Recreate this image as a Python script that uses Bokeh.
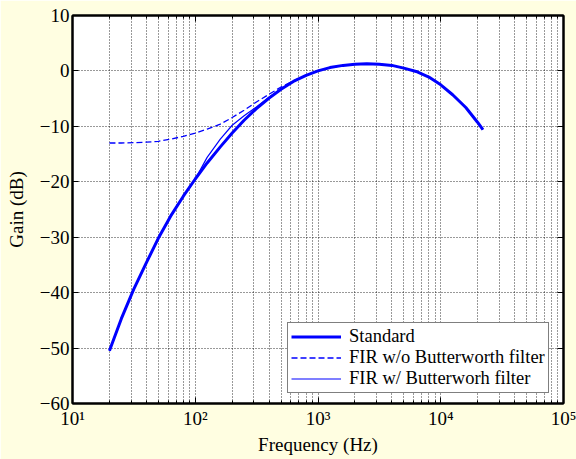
from bokeh.plotting import figure
from bokeh.models import (Range1d, FixedTicker, LogAxis, LinearAxis, Legend, LegendItem)
from bokeh.embed import file_html
from bokeh.resources import INLINE

# ---- data ----
freq = [20, 25, 31.5, 40, 50, 63, 80, 100, 125, 160, 200, 250, 315, 400, 500, 630,
        800, 1000, 1250, 1600, 2000, 2500, 3150, 4000, 5000, 6300, 8000, 10000,
        12500, 16000, 20000, 22050]
gain_standard = [-50.5, -44.7, -39.4, -34.6, -30.2, -26.2, -22.6, -19.5, -16.6, -13.7,
                 -11.2, -8.9, -6.8, -4.9, -3.3, -1.9, -0.8, 0.0, 0.6, 1.0, 1.2, 1.3,
                 1.2, 1.0, 0.5, -0.1, -1.1, -2.5, -4.3, -6.6, -9.3, -10.6]
gain_fir_no_bw = [-13.0, -13.0, -12.95, -12.85, -12.7, -12.3, -11.8, -11.2, -10.5, -9.6,
                  -8.4, -7.1, -5.6, -4.2, -2.9, -1.8, -0.8, 0.0, 0.6, 1.0, 1.2, 1.3,
                  1.2, 1.0, 0.5, -0.1, -1.1, -2.5, -4.3, -6.6, -9.3, -10.6]
gain_fir_bw = [-50.5, -44.7, -39.4, -34.6, -30.2, -26.2, -22.6, -19.5, -15.6, -12.3,
               -9.8, -8.1, -6.5, -4.7, -3.2, -1.9, -0.8, 0.0, 0.6, 1.0, 1.2, 1.3,
               1.2, 1.0, 0.5, -0.1, -1.1, -2.5, -4.3, -6.6, -9.3, -10.6]

labels = ["Standard", "FIR w/o Butterworth filter", "FIR w/ Butterworh filter"]
x_major = [10, 100, 1000, 10000, 100000]
x_major_labels = {10: "10\u00b9", 100: "10\u00b2", 1000: "10\u00b3",
                  10000: "10\u2074", 100000: "10\u2075"}
y_major = [-60, -50, -40, -30, -20, -10, 0, 10]
y_major_labels = {v: (("\u2212" + str(-v)) if v < 0 else str(v)) for v in y_major}
x_minor = [m * d for d in [10, 100, 1000, 10000] for m in range(2, 10)]

FONT = "'Liberation Serif', 'Times New Roman', serif"
BG = "#fffee1"

p = figure(width=576, height=459, x_axis_type="log",
           x_range=Range1d(10, 100000), y_range=Range1d(-60, 10),
           output_backend="svg", toolbar_location=None,
           min_border_left=72, min_border_right=13, min_border_top=15,
           min_border_bottom=56)
p.background_fill_color = "white"
p.border_fill_color = BG
p.outline_line_color = "black"
p.outline_line_width = 2

xt = FixedTicker(ticks=x_major, minor_ticks=x_minor)
yt = FixedTicker(ticks=y_major, minor_ticks=[])

def style_axis(ax, show_labels):
    ax.axis_line_color = "black"
    ax.axis_line_width = 2
    ax.major_tick_in = 6
    ax.major_tick_out = 0
    ax.minor_tick_in = 3
    ax.minor_tick_out = 0
    ax.major_tick_line_color = "black"
    ax.minor_tick_line_color = "black"
    ax.major_label_text_font = FONT
    ax.major_label_text_font_size = "19px" if show_labels else "1px"
    ax.major_label_text_color = "black" if show_labels else None
    ax.axis_label_text_font = FONT
    ax.axis_label_text_font_size = "19px"
    ax.axis_label_text_font_style = "normal"
    ax.axis_label_text_color = "black"

xa = p.xaxis[0]
xa.ticker = xt
xa.major_label_overrides = x_major_labels
xa.axis_label = "Frequency (Hz)"
style_axis(xa, True)
xa.major_label_standoff = 4
xa.axis_label_standoff = 2

ya = p.yaxis[0]
ya.ticker = yt
ya.major_label_overrides = y_major_labels
ya.axis_label = "Gain (dB)"
style_axis(ya, True)
ya.major_label_standoff = 3
ya.axis_label_standoff = 10
ya.minor_tick_line_color = None

top = LogAxis(ticker=xt)
style_axis(top, False)
top.major_label_standoff = 0
p.add_layout(top, "above")
right = LinearAxis(ticker=yt)
style_axis(right, False)
right.minor_tick_line_color = None
right.major_label_standoff = 0
p.add_layout(right, "right")

for g in (p.xgrid[0], p.ygrid[0]):
    g.grid_line_color = "black"
    g.grid_line_alpha = 0.8
    g.grid_line_dash = "1 2"
    g.grid_line_width = 1
p.xgrid[0].ticker = xt
p.xgrid[0].minor_grid_line_color = "black"
p.xgrid[0].minor_grid_line_alpha = 0.8
p.xgrid[0].minor_grid_line_dash = "1 2"
p.ygrid[0].ticker = yt

r1 = p.line(freq, gain_standard, line_color="#0000ff", line_width=3)
r2 = p.line(freq, gain_fir_no_bw, line_color="#0000ff", line_width=1.3, line_dash="6 3")
r3 = p.line(freq, gain_fir_bw, line_color="#0000ff", line_width=1.2)

legend = Legend(items=[LegendItem(label=labels[0], renderers=[r1]),
                       LegendItem(label=labels[1], renderers=[r2]),
                       LegendItem(label=labels[2], renderers=[r3])],
                location=(215, 10))
legend.label_text_font = FONT
legend.label_text_font_size = "18.5px"
legend.label_text_color = "black"
legend.border_line_color = "black"
legend.border_line_width = 1
legend.background_fill_color = "white"
legend.background_fill_alpha = 1
legend.padding = 3
legend.spacing = 0
legend.margin = 0
legend.label_height = 19
legend.glyph_height = 19
legend.glyph_width = 50
legend.label_standoff = 8
p.add_layout(legend, "center")

open("out.html", "w").write(file_html(p, INLINE))
